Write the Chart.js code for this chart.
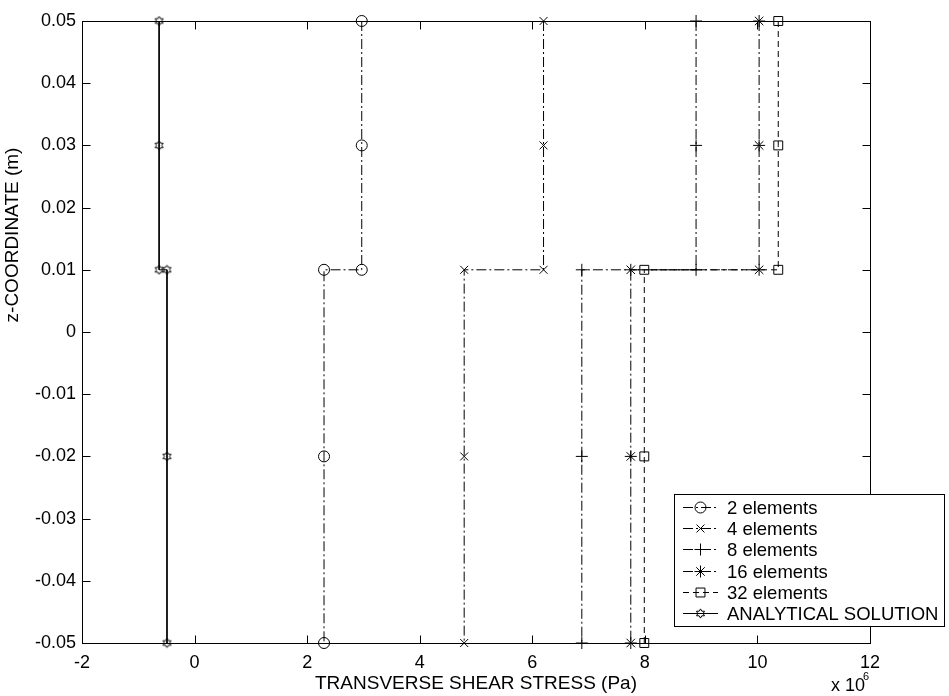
<!DOCTYPE html>
<html><head><meta charset="utf-8">
<script src="https://cdn.jsdelivr.net/npm/chart.js@4.4.1/dist/chart.umd.min.js"></script>
<style>html,body{margin:0;padding:0;background:#fff;}canvas{display:block}</style>
</head><body>
<canvas id="c" width="949" height="696"></canvas>
<script>
// ---- data (stress in Pa, z in m) ----
const zCoordinates = [0.05, 0.03, 0.01, 0.01, -0.02, -0.05];
const stress2 = [2.97e6, 2.97e6, 2.97e6, 2.30e6, 2.30e6, 2.30e6];
const stress4 = [6.20e6, 6.20e6, 6.20e6, 4.79e6, 4.79e6, 4.79e6];
const stress8 = [8.91e6, 8.91e6, 8.91e6, 6.88e6, 6.88e6, 6.88e6];
const stress16 = [10.03e6, 10.03e6, 10.03e6, 7.75e6, 7.75e6, 7.75e6];
const stress32 = [10.37e6, 10.37e6, 10.37e6, 7.99e6, 7.99e6, 7.99e6];
const stressAnalytical = [-0.63e6, -0.63e6, -0.63e6, -0.49e6, -0.49e6, -0.49e6];
const seriesNames = ['2 elements', '4 elements', '8 elements', '16 elements', '32 elements', 'ANALYTICAL SOLUTION'];
const xTickValues = [-2e6, 0, 2e6, 4e6, 6e6, 8e6, 10e6, 12e6];
const yTickValues = [-0.05, -0.04, -0.03, -0.02, -0.01, 0, 0.01, 0.02, 0.03, 0.04, 0.05];
const xAxisTitle = 'TRANSVERSE SHEAR STRESS (Pa)';
const yAxisTitle = 'z-COORDINATE (m)';

// hexagram marker
function makeHexagram() {
  const c = document.createElement('canvas');
  c.width = 11; c.height = 11;
  const g = c.getContext('2d');
  const cx = 5.5, cy = 5.5, R = 4.6, r = 2.65;
  g.beginPath();
  for (let i = 0; i < 12; i++) {
    const ang = -Math.PI / 2 + i * Math.PI / 6;
    const rad = i % 2 === 0 ? R : r;
    const px = cx + rad * Math.cos(ang), py = cy + rad * Math.sin(ang);
    if (i === 0) g.moveTo(px, py); else g.lineTo(px, py);
  }
  g.closePath();
  g.strokeStyle = '#000'; g.lineWidth = 1; g.stroke();
  return c;
}
const hexagram = makeHexagram();

const DASHDOT = [10, 3, 2, 3];
const DASHED = [6, 4];
const seriesStress = [stress2, stress4, stress8, stress16, stress32, stressAnalytical];
const seriesStyle = [
  {pointStyle: 'circle', radius: 5.5, dash: DASHDOT},
  {pointStyle: 'crossRot', radius: 5.6, dash: DASHDOT},
  {pointStyle: 'cross', radius: 6, dash: DASHDOT},
  {pointStyle: 'star', radius: 6, dash: DASHDOT},
  {pointStyle: 'rect', radius: 6.3, dash: DASHED},
  {pointStyle: hexagram, radius: 5, dash: []}
];

const datasets = seriesStress.map((xs, i) => ({
  label: seriesNames[i],
  data: xs.map((x, j) => ({x: x, y: zCoordinates[j]})),
  showLine: true,
  borderColor: '#000',
  borderWidth: 1,
  borderDash: seriesStyle[i].dash,
  pointStyle: seriesStyle[i].pointStyle,
  pointRadius: seriesStyle[i].radius,
  pointBorderColor: '#000',
  pointBackgroundColor: 'rgba(0,0,0,0)',
  pointBorderWidth: 1,
  tension: 0,
  clip: false
}));

const FONT = '"Liberation Sans", Arial, Helvetica, sans-serif';

const framePlugin = {
  id: 'frame',
  afterDatasetsDraw(chart) {
    const ctx = chart.ctx;
    const a = chart.chartArea;
    const xs = chart.scales.x, ys = chart.scales.y;
    ctx.save();
    ctx.strokeStyle = '#000';
    ctx.lineWidth = 1;
    ctx.setLineDash([]);
    const L = Math.round(a.left) + 0.5, R = Math.round(a.right) + 0.5;
    const T = Math.round(a.top) + 0.5, B = Math.round(a.bottom) + 0.5;
    ctx.strokeRect(L, T, R - L, B - T);
    const tl = 8;
    ctx.beginPath();
    xTickValues.forEach(v => {
      const px = Math.round(xs.getPixelForValue(v)) + 0.5;
      ctx.moveTo(px, B); ctx.lineTo(px, B - tl);
      ctx.moveTo(px, T); ctx.lineTo(px, T + tl);
    });
    yTickValues.forEach(v => {
      const py = Math.round(ys.getPixelForValue(v)) + 0.5;
      ctx.moveTo(L, py); ctx.lineTo(L + tl, py);
      ctx.moveTo(R, py); ctx.lineTo(R - tl, py);
    });
    ctx.stroke();

    ctx.fillStyle = '#000';
    // y axis title
    ctx.save();
    ctx.translate(13, 235);
    ctx.rotate(-Math.PI / 2);
    ctx.font = '19px ' + FONT;
    ctx.textAlign = 'center';
    ctx.textBaseline = 'middle';
    ctx.fillText(yAxisTitle, 0, 0);
    ctx.restore();

    // multiplier label
    ctx.textBaseline = 'alphabetic';
    ctx.textAlign = 'left';
    ctx.font = '18px ' + FONT;
    ctx.fillText('x 10', 831, 691);
    ctx.font = '11px ' + FONT;
    ctx.fillText('6', 863, 680);

    // legend
    const bx = 674.5, by = 494.5, bw = 270, bh = 132;
    ctx.fillStyle = '#fff';
    ctx.fillRect(bx, by, bw, bh);
    ctx.strokeRect(bx, by, bw, bh);
    ctx.font = '18.5px ' + FONT;
    ctx.textBaseline = 'middle';
    chart.data.datasets.forEach((ds, i) => {
      const y = Math.round(507 + i * 21.2) + 0.5;
      ctx.save();
      ctx.setLineDash(ds.borderDash || []);
      ctx.beginPath();
      ctx.moveTo(683, y); ctx.lineTo(718, y);
      ctx.stroke();
      ctx.restore();
      ctx.save();
      ctx.strokeStyle = '#000';
      ctx.fillStyle = 'rgba(0,0,0,0)';
      ctx.setLineDash([]);
      if (Chart.helpers && Chart.helpers.drawPoint) {
        Chart.helpers.drawPoint(ctx, {pointStyle: ds.pointStyle, radius: ds.pointRadius, rotation: 0, borderWidth: 1}, 700.5, y);
      }
      ctx.restore();
      ctx.fillStyle = '#000';
      ctx.fillText(ds.label, 727, y + 1);
    });
    ctx.restore();
  }
};

new Chart(document.getElementById('c'), {
  type: 'scatter',
  data: {datasets: datasets},
  options: {
    responsive: false,
    animation: false,
    devicePixelRatio: 1,
    layout: {padding: {left: 0, top: 21, right: 79, bottom: 0}},
    plugins: {legend: {display: false}, tooltip: {enabled: false}},
    scales: {
      x: {
        type: 'linear', min: -2e6, max: 12e6,
        afterBuildTicks: s => { s.ticks = xTickValues.map(v => ({value: v})); },
        afterFit: s => { s.height = 53; },
        grid: {display: false, drawTicks: false},
        border: {display: false},
        ticks: {color: '#000', font: {family: FONT, size: 18}, padding: 9, maxRotation: 0, autoSkip: false,
          callback: v => String(Math.round(v / 1e5) / 10)},
        title: {display: true, text: xAxisTitle, color: '#000', font: {family: FONT, size: 19}, padding: {top: 0, bottom: 1}}
      },
      y: {
        type: 'linear', min: -0.05, max: 0.05,
        afterBuildTicks: s => { s.ticks = yTickValues.map(v => ({value: v})); },
        afterFit: s => { s.width = 82; },
        grid: {display: false, drawTicks: false},
        border: {display: false},
        ticks: {color: '#000', font: {family: FONT, size: 18}, padding: 6, autoSkip: false,
          callback: v => String(Math.round(v * 100) / 100)},
        title: {display: false}
      }
    }
  },
  plugins: [framePlugin]
});
</script>
</body></html>
